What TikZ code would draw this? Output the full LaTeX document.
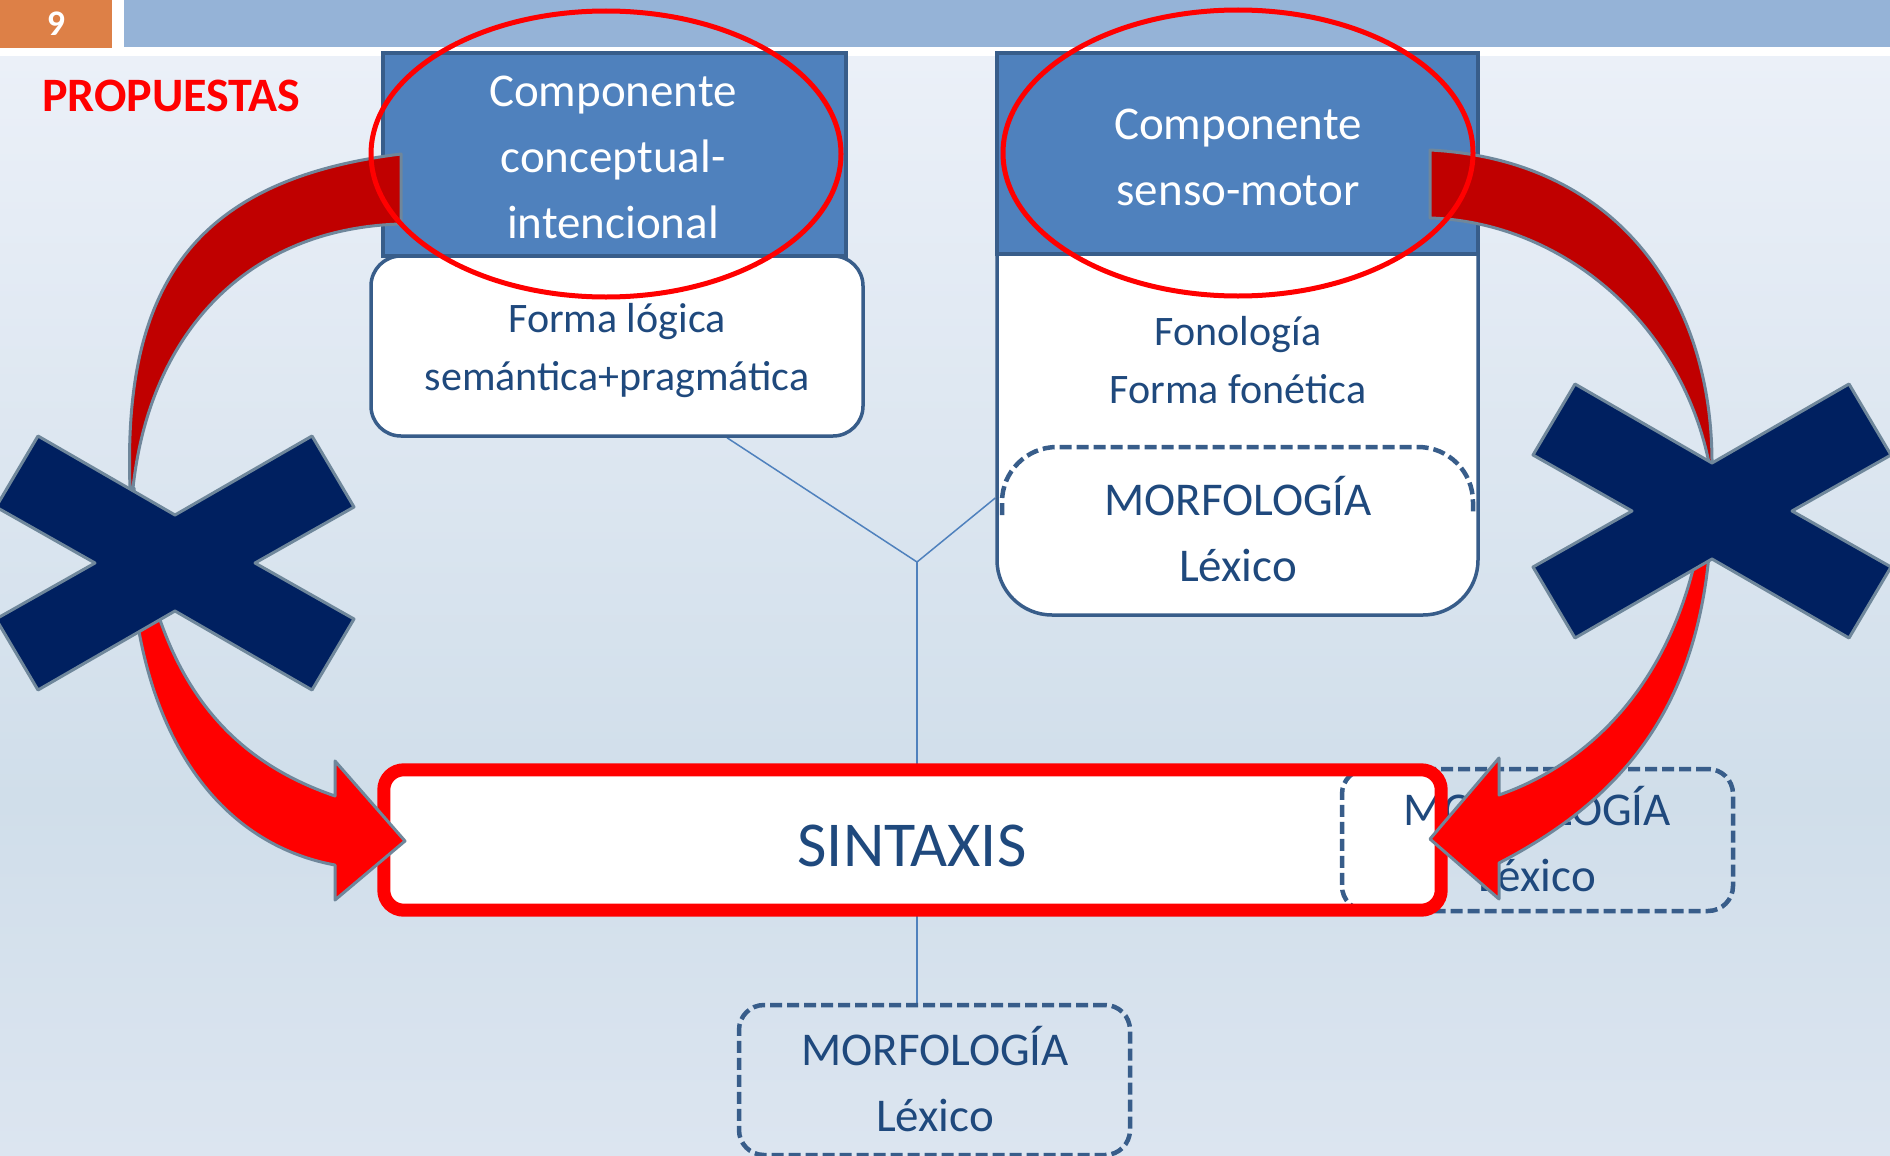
\documentclass[tikz,border=0pt]{standalone}
\usepackage{fontspec}
\setmainfont{Carlito}
\definecolor{hdrfill}{HTML}{4F81BD}
\definecolor{boxln}{HTML}{385D8A}
\definecolor{txtblue}{HTML}{1F497D}
\definecolor{arrowln}{HTML}{6F879B}
\definecolor{darkred}{HTML}{C00000}
\definecolor{brightred}{HTML}{FF0000}
\definecolor{navyx}{HTML}{002060}
\definecolor{orangebar}{HTML}{DD8047}
\definecolor{bluebar}{HTML}{95B3D7}
\definecolor{bgtop}{HTML}{EBF0F8}
\definecolor{bgmid}{HTML}{D0DEEA}
\definecolor{bgbot}{HTML}{DCE5F0}
\definecolor{conn}{HTML}{4F81BD}
\pgfdeclarelayer{back}
\pgfdeclarelayer{lines}
\pgfsetlayers{back,lines,main}
\newcommand\mystrut{\rule[-0.3em]{0pt}{1.25em}}
\tikzset{
  hdrbox/.style={draw=boxln, fill=hdrfill, line width=3.5pt, inner sep=0pt},
  wbox/.style={draw=boxln, fill=white, line width=3.5pt, inner sep=0pt},
  dashbox/.style={draw=boxln, line width=4.5pt, dash pattern=on 12pt off 5pt, rounded corners=25pt, inner sep=0pt},
  dashln/.style={draw=boxln, line width=4.5pt, dash pattern=on 12pt off 5pt},
  tbig/.style={align=center, font=\fontsize{47}{66}\selectfont, inner sep=0pt},
  tmid/.style={align=center, font=\fontsize{42}{58}\selectfont, inner sep=0pt},
  connline/.style={draw=conn, line width=1.5pt},
  bandD/.style={draw=arrowln, fill=darkred, line width=3pt, line join=round},
  bandB/.style={draw=arrowln, fill=brightred, line width=3pt, line join=round},
  crossx/.style={draw=arrowln, fill=navyx, line width=3pt, line join=round},
  ellred/.style={draw=brightred, line width=5pt},
}
\newcommand\drawcross[1]{%
  \begin{scope}[shift={#1}]
    \path[crossx] (0,-48) -- (137,-127) -- (179,-56) -- (80,0) -- (179,56) -- (137,127)
      -- (0,48) -- (-137,127) -- (-179,56) -- (-80,0) -- (-179,-56) -- (-137,-127) -- cycle;
  \end{scope}}
\begin{document}
\begin{tikzpicture}[x=1pt,y=-1pt]
\useasboundingbox (0,0) rectangle (1890,1156);
\begin{pgfonlayer}{back}
  \fill[white] (0,0) rectangle (1890,1156);
  \shade[top color=bgtop, bottom color=bgmid] (0,57) rectangle (1890,800);
  \shade[top color=bgmid, bottom color=bgbot] (0,799.5) rectangle (1890,1156);
  \fill[bluebar] (124,0) rectangle (1890,47);
\end{pgfonlayer}

% slide number and title
\node[fill=orangebar, minimum width=112pt, minimum height=48pt, inner sep=0pt,
      text=white, font=\bfseries\fontsize{36}{40}\selectfont] (num) at (56,24) {9};
\node[anchor=base west, inner sep=0pt, text=brightred,
      font=\bfseries\fontsize{48}{54}\selectfont] (prop) at (42,111) {PROPUESTAS};

% left component
\node[hdrbox, minimum width=463pt, minimum height=203pt] (lhdr) at (614.5,154.5) {};
\node[tbig, text=white] (lhdrT) at (613,157.4) {\mystrut Componente\\\mystrut conceptual-\\\mystrut intencional};
\node[wbox, rounded corners=30pt, minimum width=492pt, minimum height=180pt] (lbox) at (617,346) {};
\node[tmid, text=txtblue] (lboxT) at (617,347.4) {\mystrut Forma lógica\\\mystrut semántica+pragmática};

% right component
\node[wbox, rounded corners=55pt, minimum width=481pt, minimum height=562pt] (rbox) at (1237.5,334) {};
\node[hdrbox, minimum width=481pt, minimum height=201pt] (rhdr) at (1237.5,153.5) {};
\node[tbig, text=white] (rhdrT) at (1238,157.2) {\mystrut Componente\\\mystrut senso-motor};
\node[tmid, text=txtblue] (rfonT) at (1238,360.9) {\mystrut Fonología\\\mystrut Forma fonética};
\draw[dashln, rounded corners=55pt] (1002,515) -- (1002,447) -- (1473,447) -- (1473,515);
\node[tbig, text=txtblue] (rmorT) at (1238,533.2) {\mystrut MORFOLOGÍA\\\mystrut Léxico};

% SINTAXIS
\node[fill=white, rounded corners=20pt, minimum width=1057pt, minimum height=140pt, inner sep=0pt] (sint) at (912.5,840) {};
\node[dashbox, minimum width=391pt, minimum height=142pt] (rmorph) at (1537.5,840) {};
\node[tbig, text=txtblue] (rmorphT) at (1537,843.7) {\mystrut MORFOLOGÍA\\\mystrut Léxico};
\draw[draw=brightred, line width=13pt, rounded corners=20pt] (sint.north west) rectangle (sint.south east);
\node[align=center, inner sep=0pt, text=txtblue, font=\fontsize{64}{70}\selectfont] (sintT) at (912,845.2) {\mystrut SINTAXIS};

% bottom morphology
\node[dashbox, minimum width=391pt, minimum height=150pt] (bmorph) at (934.5,1080) {};
\node[tbig, text=txtblue] (bmorphT) at (935,1083.2) {\mystrut MORFOLOGÍA\\\mystrut Léxico};

% connectors
\coordinate (jn) at (917,562);
\begin{pgfonlayer}{lines}
  \draw[connline] ([xshift=110pt]lbox.south) -- (jn);
  \draw[connline] ([yshift=-164pt]rbox.west) -- (jn);
  \draw[connline] (jn) -- (jn |- sint.north);
  \draw[connline] (jn |- sint.south) -- (jn |- bmorph.north);
\end{pgfonlayer}

% left curved arrow
\path[bandD] (401,154) .. controls (190,180) and (123,290) .. (130,488)
  -- (133,488) .. controls (150,330) and (250,228) .. (401,224) -- cycle;
\path[bandB] (131,488) .. controls (120,700) and (200,840) .. (335,865)
  -- (335,900) -- (405,841) -- (335,761) -- (335,796)
  .. controls (230,760) and (150,680) .. (134,488) -- cycle;

% right curved arrow
\path[bandD] (1430,150) .. controls (1620,160) and (1712,300) .. (1712,463)
  -- (1709,463) .. controls (1680,320) and (1560,222) .. (1430,218) -- cycle;
\path[bandB] (1711,463) .. controls (1720,680) and (1640,790) .. (1499,863)
  -- (1499,899) -- (1430,839) -- (1499,758) -- (1499,795)
  .. controls (1600,760) and (1700,660) .. (1708,463) -- cycle;

% crosses
\drawcross{(175,563)}
\drawcross{(1712,511)}

% red ellipses
\draw[ellred] (606,154) ellipse [x radius=235pt, y radius=143pt];
\draw[ellred] (1238,153) ellipse [x radius=235pt, y radius=143pt];
\end{tikzpicture}
\end{document}
